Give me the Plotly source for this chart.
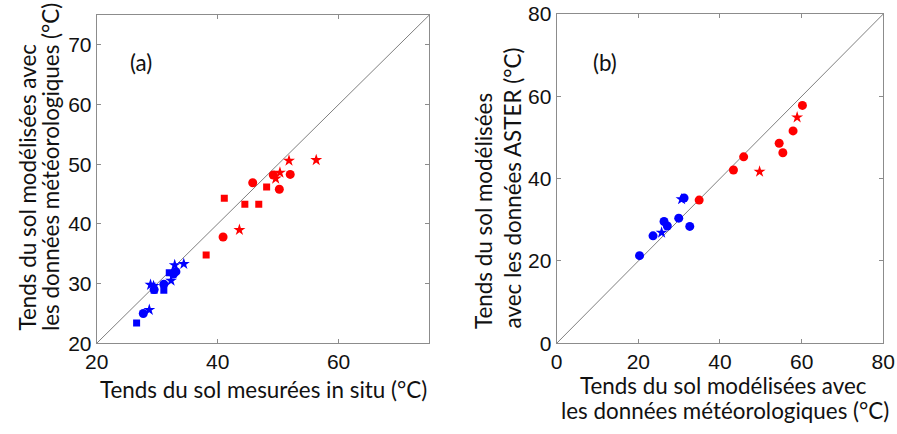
import plotly.graph_objects as go

# ---- Panel (a): measured in situ vs modelled with meteo data ----
a_red_star_x = [51.8, 56.3, 50.3, 49.6, 43.6]
a_red_star_y = [50.6, 50.7, 48.6, 47.6, 39.0]
a_red_circ_x = [45.8, 49.2, 52.0, 50.2, 40.9]
a_red_circ_y = [46.9, 48.2, 48.3, 45.8, 37.8]
a_red_sq_x = [41.1, 44.5, 46.8, 48.1, 38.1]
a_red_sq_y = [44.3, 43.3, 43.3, 46.2, 34.8]
a_blue_star_x = [32.9, 34.4, 28.9, 32.3, 28.7, 29.4]
a_blue_star_y = [33.1, 33.3, 29.8, 30.5, 25.6, 29.6]
a_blue_circ_x = [31.1, 29.5, 33.1, 32.7, 27.7]
a_blue_circ_y = [29.9, 29.0, 32.0, 31.6, 25.0]
a_blue_sq_x = [32.0, 29.5, 31.1, 26.6]
a_blue_sq_y = [31.8, 28.9, 28.9, 23.4]

# ---- Panel (b): modelled with meteo vs modelled with ASTER ----
b_red_circ_x = [60.2, 57.9, 54.5, 55.4, 45.8, 43.3, 34.9]
b_red_circ_y = [57.8, 51.6, 48.6, 46.3, 45.3, 42.1, 34.8]
b_red_star_x = [58.9, 49.7]
b_red_star_y = [54.9, 41.7]
b_blue_circ_x = [31.2, 29.9, 26.3, 27.1, 23.6, 32.6, 20.3]
b_blue_circ_y = [35.3, 30.4, 29.6, 28.5, 26.1, 28.4, 21.3]
b_blue_star_x = [30.6, 25.7]
b_blue_star_y = [35.0, 26.9]

a_range = [20, 75]
b_range = [0, 80]
a_xticks = [20, 40, 60]
a_yticks = [20, 30, 40, 50, 60, 70]
b_ticks = [0, 20, 40, 60, 80]

RED = "#FF0000"
BLUE = "#0000FF"
GRAY = "#8C8C8C"

fig = go.Figure()

def add(x, y, color, symbol, size, xa, ya):
    fig.add_trace(go.Scatter(x=x, y=y, mode="markers", xaxis=xa, yaxis=ya,
                             marker=dict(color=color, symbol=symbol, size=size,
                                         line=dict(width=0)),
                             showlegend=False, hoverinfo="x+y"))

# 1:1 lines
fig.add_trace(go.Scatter(x=a_range, y=a_range, mode="lines", xaxis="x", yaxis="y",
                         line=dict(color="#7F7F7F", width=1), showlegend=False, hoverinfo="skip"))
fig.add_trace(go.Scatter(x=b_range, y=b_range, mode="lines", xaxis="x2", yaxis="y2",
                         line=dict(color="#7F7F7F", width=1), showlegend=False, hoverinfo="skip"))

add(a_red_sq_x, a_red_sq_y, RED, "square", 7, "x", "y")
add(a_red_circ_x, a_red_circ_y, RED, "circle", 9, "x", "y")
add(a_red_star_x, a_red_star_y, RED, "star", 9, "x", "y")
add(a_blue_sq_x, a_blue_sq_y, BLUE, "square", 7, "x", "y")
add(a_blue_circ_x, a_blue_circ_y, BLUE, "circle", 9, "x", "y")
add(a_blue_star_x, a_blue_star_y, BLUE, "star", 9, "x", "y")

add(b_red_circ_x, b_red_circ_y, RED, "circle", 9, "x2", "y2")
add(b_red_star_x, b_red_star_y, RED, "star", 9, "x2", "y2")
add(b_blue_circ_x, b_blue_circ_y, BLUE, "circle", 9, "x2", "y2")
add(b_blue_star_x, b_blue_star_y, BLUE, "star", 9, "x2", "y2")

tickfont = dict(family="Liberation Sans, Arial, sans-serif", size=21, color="#111111")
axis_common = dict(showline=True, linecolor=GRAY, linewidth=1, mirror="ticks",
                   ticks="inside", ticklen=4, tickcolor=GRAY, showgrid=False,
                   zeroline=False, tickfont=tickfont, automargin=False)

fig.update_layout(
    width=897, height=434,
    margin=dict(l=0, r=0, t=0, b=0, autoexpand=False),
    paper_bgcolor="white", plot_bgcolor="white",
    xaxis=dict(domain=[0.1078, 0.4786], range=a_range, tickvals=a_xticks,
               anchor="y", **axis_common),
    yaxis=dict(domain=[0.2090, 0.9654], range=a_range, tickvals=a_yticks,
               anchor="x", **axis_common),
    xaxis2=dict(domain=[0.6206, 0.9847], range=b_range, tickvals=b_ticks,
                anchor="y2", **axis_common),
    yaxis2=dict(domain=[0.2090, 0.9677], range=b_range, tickvals=b_ticks,
                anchor="x2", **axis_common),
)

FS = 22.4
titlefont = dict(family="Lato, Open Sans, sans-serif", size=FS, color="#111111")
# (text, x_px, y_px, angle, xanchor, yanchor)
items = [
    ("(a)", 141, 63, 0, "center", "middle"),
    ("(b)", 605, 63, 0, "center", "middle"),
    ("Tends du sol mesurées in situ (°C)", 263, 389, 0, "center", "middle"),
    ("Tends du sol modélisées avec", 27, 333, -90, "center", "bottom"),
    ("les données météorologiques (°C)", 50, 333, -90, "center", "bottom"),
    ("Tends du sol modélisées", 483, 331, -90, "center", "bottom"),
    ("avec les données ASTER (°C)", 512, 331, -90, "center", "bottom"),
    ("Tends du sol modélisées avec", 723, 385, 0, "center", "middle"),
    ("les données météorologiques (°C)", 725, 410, 0, "center", "middle"),
]
ann = []
for text, xp, yp, ang, xa, ya in items:
    ann.append(dict(text=text, x=xp / 897, y=1 - yp / 434, xref="paper", yref="paper",
                    textangle=ang, xanchor=xa, yanchor=ya, showarrow=False,
                    font=titlefont))
fig.update_layout(annotations=ann)

fig.write_html("out.html", config={"displayModeBar": False},
               post_script="document.body.style.margin='0px';document.body.style.overflow='hidden';")
